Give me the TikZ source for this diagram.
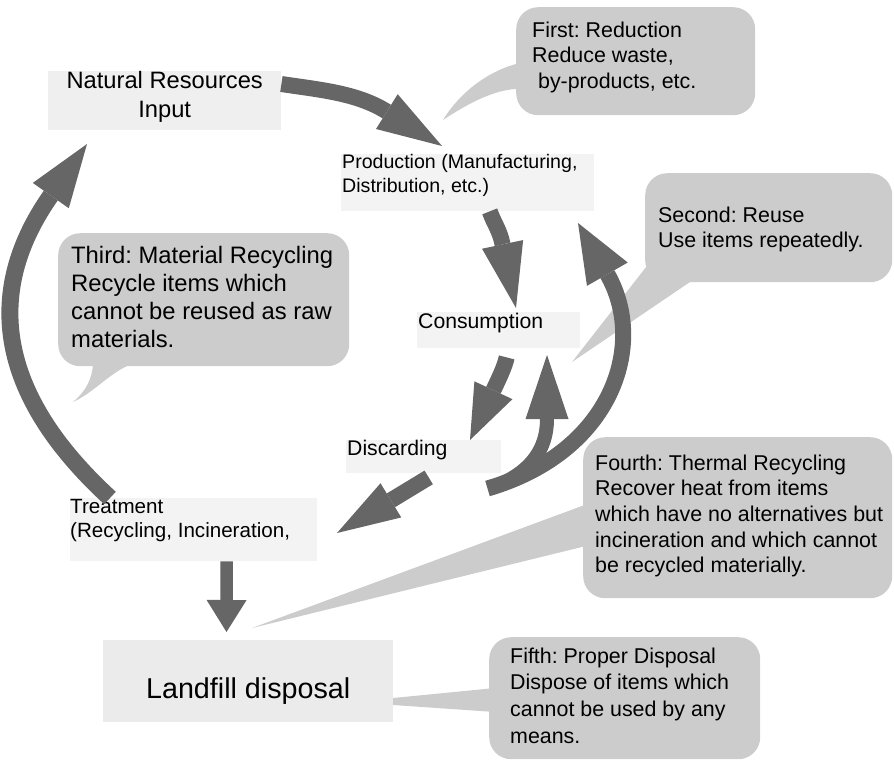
\documentclass[tikz,border=0pt]{standalone}
\usepackage{fontspec}
\setmainfont{Liberation Sans}
\usetikzlibrary{arrows.meta,calc}
\definecolor{arrowgray}{HTML}{666666}
\definecolor{notegray}{HTML}{CCCCCC}
\definecolor{stagegray}{HTML}{F3F3F3}
\definecolor{natgray}{HTML}{EFEFEF}
\definecolor{landgray}{HTML}{EBEBEB}
\frenchspacing
% width, height, first baseline, alignment, text
\newcommand{\blocktext}[5]{\parbox[t][#2][t]{#1}{#4\rule{0pt}{#3}#5}}
\tikzset{
  stage/.style={fill=stagegray, inner sep=0pt, anchor=north west},
  note/.style={fill=notegray, rounded corners=22pt, inner sep=0pt, anchor=north west,
    font=\fontsize{21.4}{25.6}\selectfont},
  tail/.style={fill=notegray},
  flow/.style 2 args={draw=arrowgray, line width=16pt,
    -{Triangle[width=#1,length=#2,line width=0pt]}}
}

\begin{document}
\begin{tikzpicture}[x=1pt,y=-1pt]
\useasboundingbox (0,0) rectangle (894,761);

      %% callout tails, under the notes and arrows
      \fill[tail] (516,64) .. controls (480,74) and (455,100) .. (443,120)
        .. controls (470,102) and (495,90) .. (516,89) -- cycle;
      \fill[tail] (650,262) -- (572,362) -- (690,282) -- cycle;
      \fill[tail] (93,364) .. controls (92,380) and (85,392) .. (73,402)
        .. controls (95,392) and (110,372) .. (132,364) -- cycle;
      \fill[tail] (590,503) -- (252,628) -- (590,545) -- cycle;
      \fill[tail] (495,688) -- (393,698) -- (393,705) -- (495,712) -- cycle;

      %% the five notes
      \node[note] (n1) at (516,7) {\blocktext{239pt}{108pt}{30pt}{\leftskip=16pt\relax}%
        {First: Reduction\\Reduce waste,\\\hspace*{5.9pt}by-products, etc.}};
      \node[note] (n2) at (645,173) {\blocktext{247pt}{109pt}{49pt}{\leftskip=13pt\relax}%
        {Second: Reuse\\Use items repeatedly.}};
      \node[note, font=\fontsize{23.8}{28}\selectfont] (n3) at (58,233)
        {\blocktext{291pt}{133pt}{30pt}{\leftskip=13pt\relax}%
        {Third: Material Recycling\\Recycle items which\\cannot be reused as raw\\materials.}};
      \node[note] (n4) at (583,437) {\blocktext{309pt}{161pt}{33pt}{\leftskip=12pt\relax}%
        {Fourth: Thermal Recycling\\Recover heat from items\\which have no alternatives but\\incineration and which cannot\\be recycled materially.}};
      \node[note, font=\fontsize{21.4}{26.7}\selectfont] (n5) at (489,637)
        {\blocktext{271pt}{122pt}{26pt}{\leftskip=21pt\relax}%
        {Fifth: Proper Disposal\\Dispose of items which\\cannot be used by any\\means.}};

      %% the stages of the cycle
      \node[stage, fill=natgray, font=\fontsize{23.7}{29}\selectfont] (nat) at (48,71)
        {\blocktext{233pt}{59pt}{17pt}{\centering}{Natural Resources\\Input}};
      \node[stage, font=\fontsize{19.6}{24}\selectfont] (prod) at (341,154)
        {\blocktext{253pt}{57pt}{14pt}{\leftskip=1pt\relax}{Production (Manufacturing,\\Distribution, etc.)}};
      \node[stage, font=\fontsize{21.2}{25}\selectfont] (cons) at (417,312)
        {\blocktext{163pt}{36pt}{16pt}{\leftskip=1pt\relax}{Consumption}};
      \node[stage, font=\fontsize{21.2}{25}\selectfont] (disc) at (346,440)
        {\blocktext{155pt}{33pt}{15pt}{\leftskip=1pt\relax}{Discarding}};
      \node[stage, font=\fontsize{20.6}{24}\selectfont] (treat) at (70,498)
        {\blocktext{247pt}{63pt}{15pt}{}{Treatment\\(Recycling, Incineration,}};
      \node[stage, fill=landgray, font=\fontsize{28.7}{34}\selectfont] (land) at (103,640)
        {\blocktext{290pt}{82pt}{58pt}{\centering}{Landfill disposal}};

      %% arrow ends
      \coordinate (toprod) at (442,146);
      \coordinate (tocons) at (516,308);
      \coordinate (todisc) at (470,440);
      \coordinate (reuse) at (487.5,488.5);
      \coordinate (branch) at (503,483);
      \coordinate (backcons) at (547,355);
      \coordinate (backprod) at (578,223);
      \coordinate (totreat) at (337,533);
      \coordinate (tonat) at (87,144);
      \coordinate (toland) at (226.5,632);

      \draw[flow={41pt}{65pt}] ($(nat.north east)+(0,13)$)
        .. controls (321,90) and (357,93) .. (toprod);
      \draw[flow={42pt}{65pt}] ($(prod.south)+(22,0)$)
        .. controls (494.8,225) and (499.5,229.8) .. (tocons);
      \draw[flow={42pt}{55pt}] ($(cons.south)+(8,9)$)
        .. controls (504.6,366.8) and (499.8,376.6) .. (todisc);
      \draw[flow={43pt}{64pt}, line width=14pt] (branch)
        .. controls (530,470) and (547,450) .. (backcons);
      \draw[flow={47pt}{59pt}] (reuse)
        .. controls (612.3,452.1) and (647.6,344.4) .. (backprod);
      \draw[flow={40pt}{63pt}] ($(disc.south)+(5,4)$) -- (totreat);
      \draw[flow={44pt}{63pt}, line width=17pt] ($(treat.north west)+(40,0)$)
        .. controls (-19.5,379) and (-5,275) .. (tonat);
      \draw[flow={40pt}{32pt}, line width=12.5pt] ($(treat.south)+(33,0)$) -- (toland);

\end{tikzpicture}
\end{document}
